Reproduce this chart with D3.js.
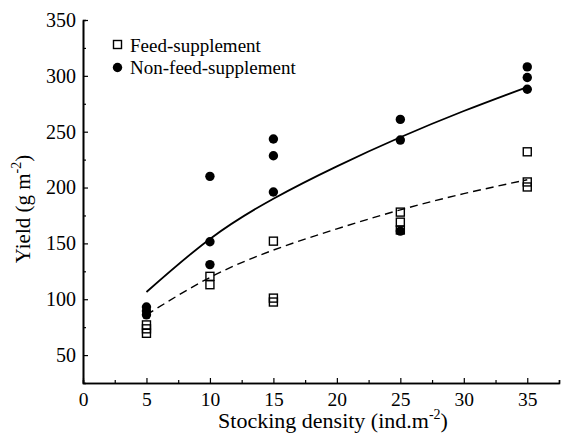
<!DOCTYPE html>
<html><head>
<meta charset="UTF-8">
<script src="https://d3js.org/d3.v7.min.js"></script>
<style>
  body { margin: 0; background: #fff; }
  .axis path, .axis line { stroke: #000; }
</style>
</head>
<body>
<div id="chart"></div>
<script>
// values
const feedX = [5, 5, 5, 10, 10, 15, 15, 15, 25, 25, 25, 35, 35, 35];
const feedY = [77, 73.5, 69.5, 120.5, 113, 152, 101, 97.5, 178, 169, 162, 232, 205, 200.5];
const nonFeedX = [5, 5, 5, 10, 10, 10, 15, 15, 15, 25, 25, 25, 35, 35, 35];
const nonFeedY = [93, 89.5, 86, 210, 151.5, 131, 243.5, 228.5, 196, 261, 242.5, 161, 308, 298.5, 288];

// fitted curves, read at 5-unit steps
const fitX = [5, 10, 15, 20, 25, 30, 35];
const nonFeedFit = [106.5, 154, 190, 219, 245, 268.5, 290];
const feedFit = [86, 119.5, 144, 163, 180, 194.5, 207];

const xMajor = [0, 5, 10, 15, 20, 25, 30, 35];
const xMinor = [2.5, 7.5, 12.5, 17.5, 22.5, 27.5, 32.5, 37.5];
const yMajor = [50, 100, 150, 200, 250, 300, 350];
const yMinor = [75, 125, 175, 225, 275, 325];

const FONT = "'Liberation Serif', 'Times New Roman', Times, serif";
const W = 565, H = 439;
const m = { left: 83, right: 559, top: 20, bottom: 383 };

const svg = d3.select("#chart").append("svg")
  .attr("width", W).attr("height", H)
  .attr("font-family", FONT);

const x = d3.scaleLinear().domain([0, 37.5]).range([m.left, m.right]);
const y = d3.scaleLinear().domain([25, 350]).range([m.bottom, m.top]);

// axes
const xAxisG = svg.append("g").attr("class", "axis").attr("transform", `translate(0,${m.bottom})`);
xAxisG.call(d3.axisBottom(x).tickValues(xMinor).tickSize(-3).tickFormat(""));
xAxisG.append("g").call(d3.axisBottom(x).tickValues(xMajor).tickSizeInner(-5).tickSizeOuter(0).tickPadding(9));
xAxisG.selectAll("path").attr("stroke-width", 1.6);
xAxisG.selectAll("line").attr("stroke-width", 1.2);
xAxisG.attr("font-family", FONT);
xAxisG.selectAll("g").attr("font-family", FONT);
xAxisG.selectAll("text").attr("font-family", FONT).attr("font-size", 19.5).attr("fill", "#000");

const yAxisG = svg.append("g").attr("class", "axis").attr("transform", `translate(${m.left},0)`);
yAxisG.call(d3.axisLeft(y).tickValues(yMinor).tickSize(-3).tickFormat(""));
yAxisG.append("g").call(d3.axisLeft(y).tickValues(yMajor).tickSizeInner(-5).tickSizeOuter(0).tickPadding(7));
yAxisG.selectAll("path").attr("stroke-width", 1.6);
yAxisG.selectAll("line").attr("stroke-width", 1.2);
yAxisG.attr("font-family", FONT);
yAxisG.selectAll("g").attr("font-family", FONT);
yAxisG.selectAll("text").attr("font-family", FONT).attr("font-size", 20).attr("fill", "#000");

// axis titles
const xt = svg.append("text")
  .attr("x", 333).attr("y", 428)
  .attr("text-anchor", "middle").attr("font-size", 22);
xt.append("tspan").text("Stocking density (ind.m");
xt.append("tspan").attr("dy", -9).attr("font-size", 14).text("-2");
xt.append("tspan").attr("dy", 9).text(")");

const yt = svg.append("text")
  .attr("transform", `translate(30,209) rotate(-90)`)
  .attr("text-anchor", "middle").attr("font-size", 21);
yt.append("tspan").text("Yield (g m");
yt.append("tspan").attr("dy", -9).attr("font-size", 14).text("-2");
yt.append("tspan").attr("dy", 9).text(")");

// fitted lines
const line = d3.line().x((d, i) => x(fitX[i])).y(d => y(d)).curve(d3.curveNatural);
svg.append("path").datum(nonFeedFit).attr("d", line)
  .attr("fill", "none").attr("stroke", "#000").attr("stroke-width", 1.8);
svg.append("path").datum(feedFit).attr("d", line)
  .attr("fill", "none").attr("stroke", "#000").attr("stroke-width", 1.4)
  .attr("stroke-dasharray", "8,5");

// points
const sq = 8;
svg.append("g").selectAll("rect").data(feedY).join("rect")
  .attr("x", (d, i) => x(feedX[i]) - sq / 2)
  .attr("y", d => y(d) - sq / 2)
  .attr("width", sq).attr("height", sq)
  .attr("fill", "none").attr("stroke", "#000").attr("stroke-width", 1.4);

svg.append("g").selectAll("circle").data(nonFeedY).join("circle")
  .attr("cx", (d, i) => x(nonFeedX[i]))
  .attr("cy", d => y(d))
  .attr("r", 4.7).attr("fill", "#000");

// legend
const lg = svg.append("g");
lg.append("rect").attr("x", 113.5).attr("y", 40.5).attr("width", sq).attr("height", sq)
  .attr("fill", "none").attr("stroke", "#000").attr("stroke-width", 1.4);
lg.append("text").attr("x", 130).attr("y", 52).attr("font-size", 19).text("Feed-supplement");
lg.append("circle").attr("cx", 117.5).attr("cy", 67.5).attr("r", 4.7).attr("fill", "#000");
lg.append("text").attr("x", 130).attr("y", 74).attr("font-size", 19).text("Non-feed-supplement");
</script>
</body></html>
